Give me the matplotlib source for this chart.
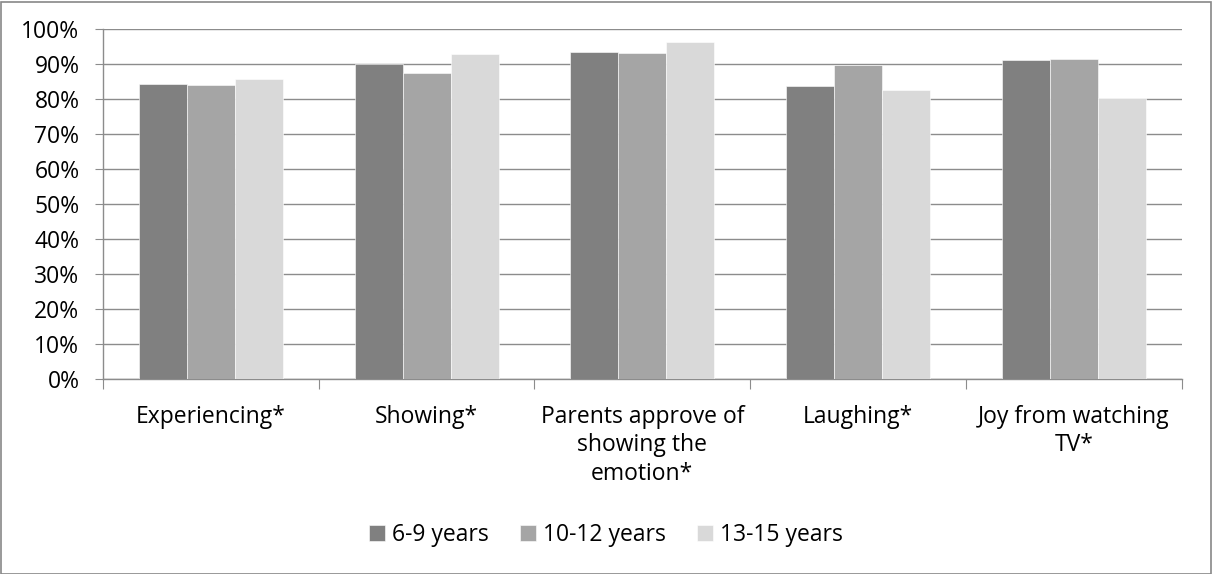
import numpy as np
import matplotlib
matplotlib.use('Agg')
import matplotlib.pyplot as plt
from matplotlib.patches import Rectangle

categories = ['Experiencing*', 'Showing*', 'Parents approve of\nshowing the\nemotion*',
              'Laughing*', 'Joy from watching\nTV*']
series_names = ['6-9 years', '10-12 years', '13-15 years']
age_6_9 = [84.3, 90.2, 93.6, 83.9, 91.1]
age_10_12 = [84.0, 87.4, 93.1, 89.9, 91.5]
age_13_15 = [85.9, 93.0, 96.5, 82.6, 80.3]
colors = ['#808080', '#A5A5A5', '#D9D9D9']

plt.rcParams['font.family'] = ['Open Sans', 'DejaVu Sans']
fs = 16.5

fig = plt.figure(figsize=(12.12, 5.74), dpi=100)
ax = fig.add_axes([103 / 1212, 1 - 379.3 / 574, (1181.7 - 103) / 1212, (379.3 - 29.3) / 574])

# outer chart frame
fig.patches.append(Rectangle((0.5 / 1212, 0.5 / 574), 1210 / 1212, 572 / 574,
                             transform=fig.transFigure, fill=False,
                             edgecolor='#888888', linewidth=1.2))

x = np.arange(len(categories))
width = 1 / 4.5
for i, (vals, name) in enumerate(zip([age_6_9, age_10_12, age_13_15], series_names)):
    ax.bar(x + (i - 1) * width, vals, width, color=colors[i], label=name,
           edgecolor='white', linewidth=0.4, zorder=3)

ax.set_xlim(-0.5, len(categories) - 0.5)
ax.set_ylim(0, 100)
ax.set_yticks(np.arange(0, 101, 10))
ax.set_yticklabels([f'{v}%' for v in range(0, 101, 10)], fontsize=fs)
ax.yaxis.grid(True, color='#8c8c8c', linewidth=1, zorder=0)

ax.set_xticks(np.arange(-0.5, len(categories), 1))
ax.set_xticklabels([])
ax.set_xticks(x, minor=True)
ax.set_xticklabels(categories, minor=True, fontsize=fs, linespacing=1.25, va='top')
ax.tick_params(axis='x', which='minor', length=0, pad=18.5)
ax.tick_params(axis='x', which='major', length=7, color='#8c8c8c')
ax.tick_params(axis='y', length=6, color='#8c8c8c', pad=11)

for s in ['top', 'right']:
    ax.spines[s].set_visible(False)
for s in ['left', 'bottom']:
    ax.spines[s].set_color('#8c8c8c')
    ax.spines[s].set_linewidth(1)

fig.legend(loc='center', bbox_to_anchor=(0.5, 1 - 535 / 574), ncol=3, frameon=False,
           fontsize=fs, handlelength=0.7, handleheight=0.7, handletextpad=0.3,
           columnspacing=1.35)

fig.savefig('out.png', dpi=100)
